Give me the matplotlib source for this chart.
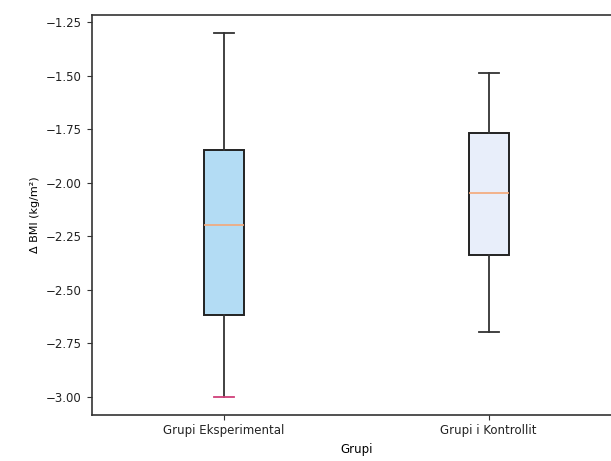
import matplotlib.pyplot as plt

# Summary statistics for BMI change per group
groups = ['Grupi Eksperimental', 'Grupi i Kontrollit']
whislo = [-3.00, -2.70]
q1 = [-2.62, -2.34]
med = [-2.20, -2.05]
q3 = [-1.85, -1.77]
whishi = [-1.30, -1.49]
box_colors = ['#b3dcf4', '#e8eefa']

stats = []
for i, name in enumerate(groups):
    stats.append({'label': name, 'whislo': whislo[i], 'q1': q1[i], 'med': med[i],
                  'q3': q3[i], 'whishi': whishi[i], 'fliers': []})

fig = plt.figure(figsize=(6.11, 4.61), dpi=100)
ax = fig.add_axes([0.1498, 0.1004, 0.8666, 0.868])

bp = ax.bxp(stats, patch_artist=True, showfliers=False,
            boxprops=dict(linewidth=1.4, edgecolor='#222222'),
            whiskerprops=dict(linewidth=1.3, color='#333333'),
            capprops=dict(linewidth=1.3, color='#333333'),
            medianprops=dict(linewidth=1.2, color='#f5a878'))
for patch, c in zip(bp['boxes'], box_colors):
    patch.set_facecolor(c)
# the lower cap of the first box is drawn in pink
bp['caps'][0].set_color('#d0407a')

ax.set_ylabel('Δ BMI (kg/m²)', fontsize=8)
ax.set_xlabel('Grupi', fontsize=8.5)
ax.tick_params(axis='both', labelsize=8.5, colors='#333333', labelcolor='#222222')
for s in ax.spines.values():
    s.set_color('#333333')
    s.set_linewidth(1.2)

fig.savefig('out.png', dpi=100)
